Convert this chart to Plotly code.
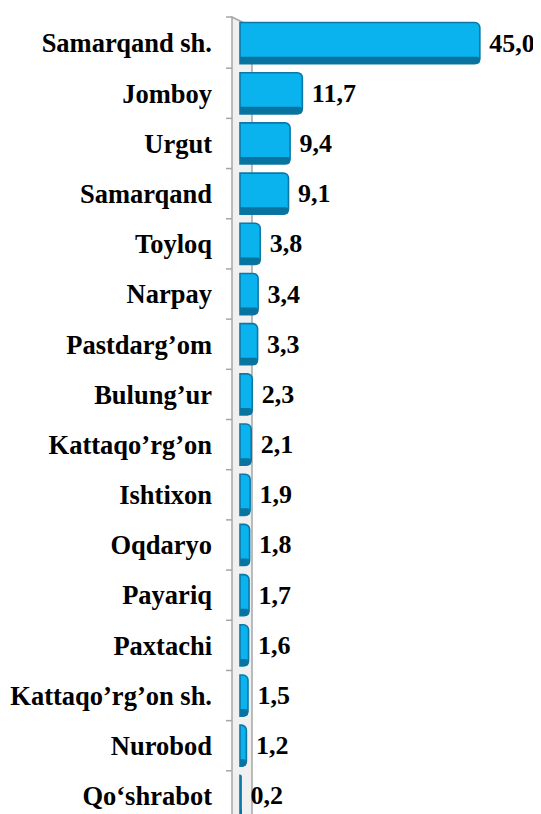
import plotly.graph_objects as go

categories = ["Samarqand sh.", "Jomboy", "Urgut", "Samarqand", "Toyloq", "Narpay",
              "Pastdarg’om", "Bulung’ur", "Kattaqo’rg’on", "Ishtixon", "Oqdaryo",
              "Payariq", "Paxtachi", "Kattaqo’rg’on sh.", "Nurobod", "Qo‘shrabot"]
values = [45.0, 11.7, 9.4, 9.1, 3.8, 3.4, 3.3, 2.3, 2.1, 1.9, 1.8, 1.7, 1.6, 1.5, 1.2, 0.2]

idx = list(range(len(categories)))
labels = ["\u00a0" + f"{v:.1f}".replace(".", ",") for v in values]

# page body has an 8px default margin; figure sized to fill the window
W, H = 533, 806
ml, mt = 224, 10
pw = W - ml
ph = H - mt

font_fam = "Liberation Serif, Times New Roman, serif"

fig = go.Figure()
fig.add_trace(go.Bar(
    x=values, y=idx, orientation="h",
    width=0.82, offset=-0.41,
    marker=dict(color="#0AB2EE", line=dict(color="#0B78A8", width=1.6)),
    text=labels, textposition="outside",
    textfont=dict(family=font_fam, size=26, color="black", weight="bold"),
    cliponaxis=False,
))
# darker underside strip for a 3D look
fig.add_trace(go.Bar(
    x=values, y=idx, orientation="h",
    width=0.14, offset=0.27,
    marker=dict(color="#08739F", line=dict(width=0)),
    hoverinfo="skip",
))

shapes = []
wall_w = 20 / pw
shapes.append(dict(type="path", xref="paper", yref="paper",
                   path=f"M 0 {1 + 1/ph} L {wall_w} {1 - 9/ph} L {wall_w} -0.02 L 0 -0.02 Z",
                   fillcolor="#F0F0F0", line=dict(color="#A6A6A6", width=1.5), layer="below"))
shapes.append(dict(type="line", xref="paper", yref="paper", x0=-6/pw, x1=0,
                   y0=1 + 1/ph, y1=1 + 1/ph, line=dict(color="#A6A6A6", width=1.5)))
for i in range(len(categories)):
    shapes.append(dict(type="line", xref="paper", yref="y", x0=-6/pw, x1=0,
                       y0=i + 0.5, y1=i + 0.5, line=dict(color="#A6A6A6", width=1.5),
                       layer="below"))

fig.update_layout(
    width=W, height=H,
    margin=dict(l=ml, r=0, t=mt, b=0, autoexpand=False),
    paper_bgcolor="white", plot_bgcolor="white",
    showlegend=False,
    barmode="overlay",
    barcornerradius=5,
    shapes=shapes,
    xaxis=dict(range=[-1.5, -1.5 + pw / 5.33], visible=False, fixedrange=True,
               automargin=False),
    yaxis=dict(range=[15.36, -0.5], tickmode="array", tickvals=idx, ticktext=categories,
               showgrid=False, zeroline=False, showline=False, ticks="",
               ticklabelstandoff=19, automargin=False,
               tickfont=dict(family=font_fam, size=26.5, color="black", weight="bold")),
)

fig.write_html("out.html")
